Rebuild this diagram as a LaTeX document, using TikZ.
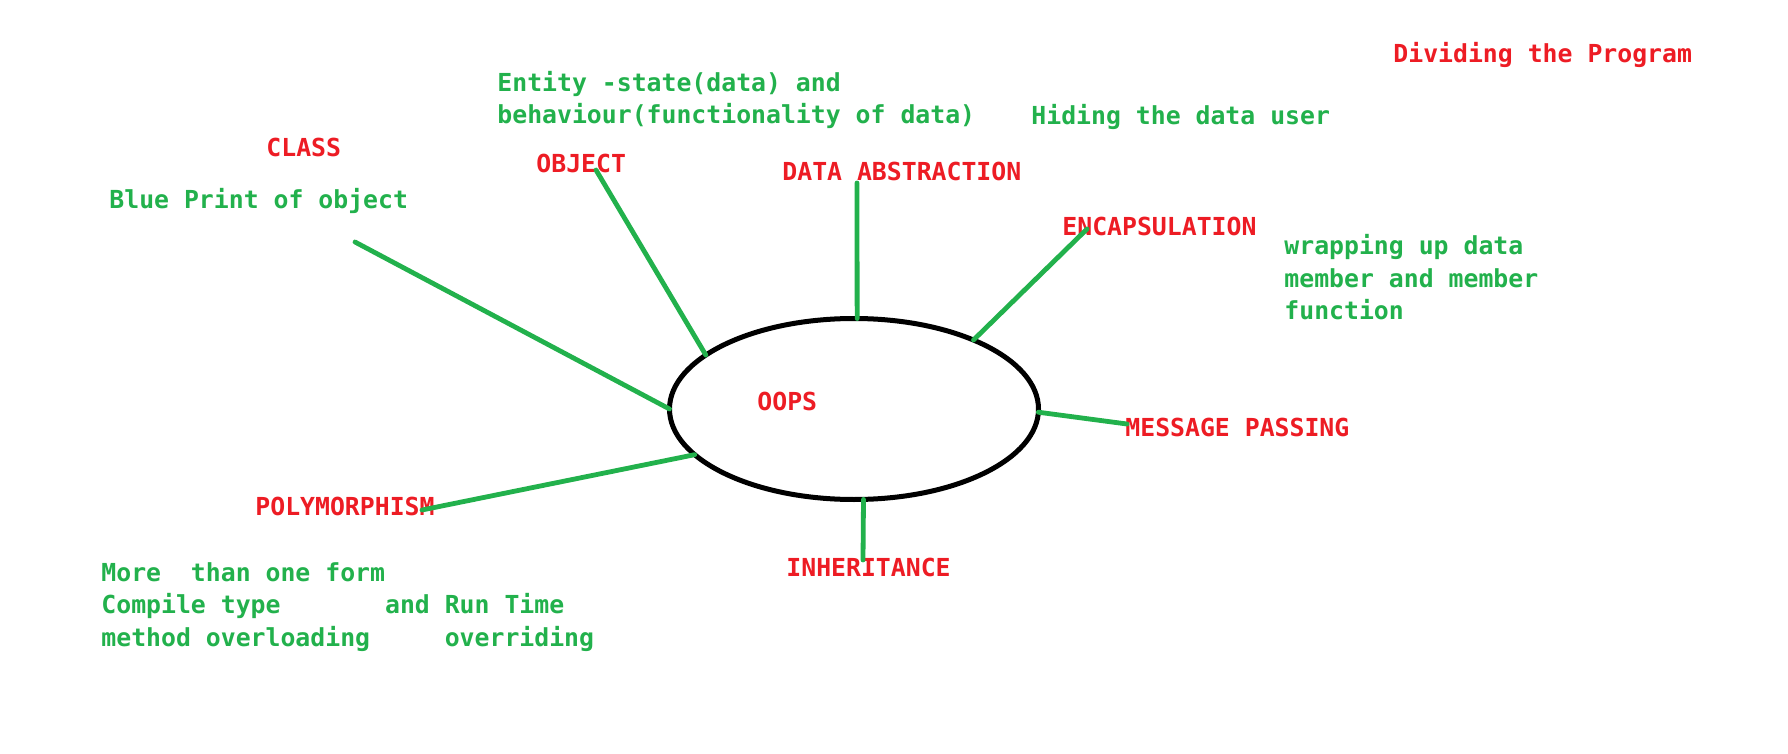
\documentclass[tikz,border=0pt]{standalone}
\usepackage{fontspec}
\setmonofont{DejaVu Sans Mono}
\usetikzlibrary{shapes.geometric}
\definecolor{paintred}{RGB}{237,28,36}
\definecolor{paintgreen}{RGB}{34,177,76}
\tikzset{
  term/.style={anchor=base west,inner sep=0pt,text=paintred,
    font=\ttfamily\bfseries\fontsize{12.4}{16.25}\selectfont},
  note/.style={term,text=paintgreen,align=left},
  spoke/.style={draw=paintgreen,line width=2.4pt,line cap=round}
}
\begin{document}
\begin{tikzpicture}[x=0.5pt,y=-0.5pt]
  \useasboundingbox (0,0) rectangle (1788,754);
  \node[ellipse,draw,line width=2.5pt,minimum width=184.5pt,minimum height=90.5pt,
        inner sep=0pt,outer sep=0pt](ring)at(854,409){};
  \node[term](oops)at(757,410){OOPS};
  \node[term](class)at(266,157){CLASS};
  \node[term](object)at(536,173){OBJECT};
  \node[term](abstraction)at(782,181){DATA ABSTRACTION};
  \node[term](encapsulation)at(1062,236){ENCAPSULATION};
  \node[term](message)at(1125,436){MESSAGE PASSING};
  \node[term](inheritance)at(786,576){INHERITANCE};
  \node[term](polymorphism)at(255,515){POLYMORPHISM};
  \node[term](dividing)at(1393,63){Dividing the Program};
  \node[note](classnote)at(109,209){Blue Print of object};
  \node[note](objectnote)at(497,124){Entity -state(data) and\\behaviour(functionality of data)};
  \node[note](hidenote)at(1031,125){Hiding the data user};
  \node[note](wrapnote)at(1284,320){wrapping up data\\member and member\\function};
  \node[note](polynote)at(101,646){More~~than one form\\Compile type~~~~~~~and Run Time\\method overloading~~~~~overriding};
  \coordinate (class-tip) at (355,242);
  \coordinate (object-tip) at (596,170);
  \coordinate (abstraction-tip) at (857,183);
  \coordinate (encapsulation-tip) at (1087,229);
  \coordinate (message-tip) at (1127,424);
  \coordinate (inheritance-tip) at (863,560);
  \coordinate (polymorphism-tip) at (422,510);
  \draw[spoke](class-tip)--(ring.180);
  \draw[spoke](object-tip)--(ring.160);
  \draw[spoke](abstraction-tip)--(ring.88);
  \draw[spoke](encapsulation-tip)--(ring.30);
  \draw[spoke](ring.-1)--(message-tip);
  \draw[spoke](ring.-84)--(inheritance-tip);
  \draw[spoke](polymorphism-tip)--(ring.196);
\end{tikzpicture}
\end{document}
